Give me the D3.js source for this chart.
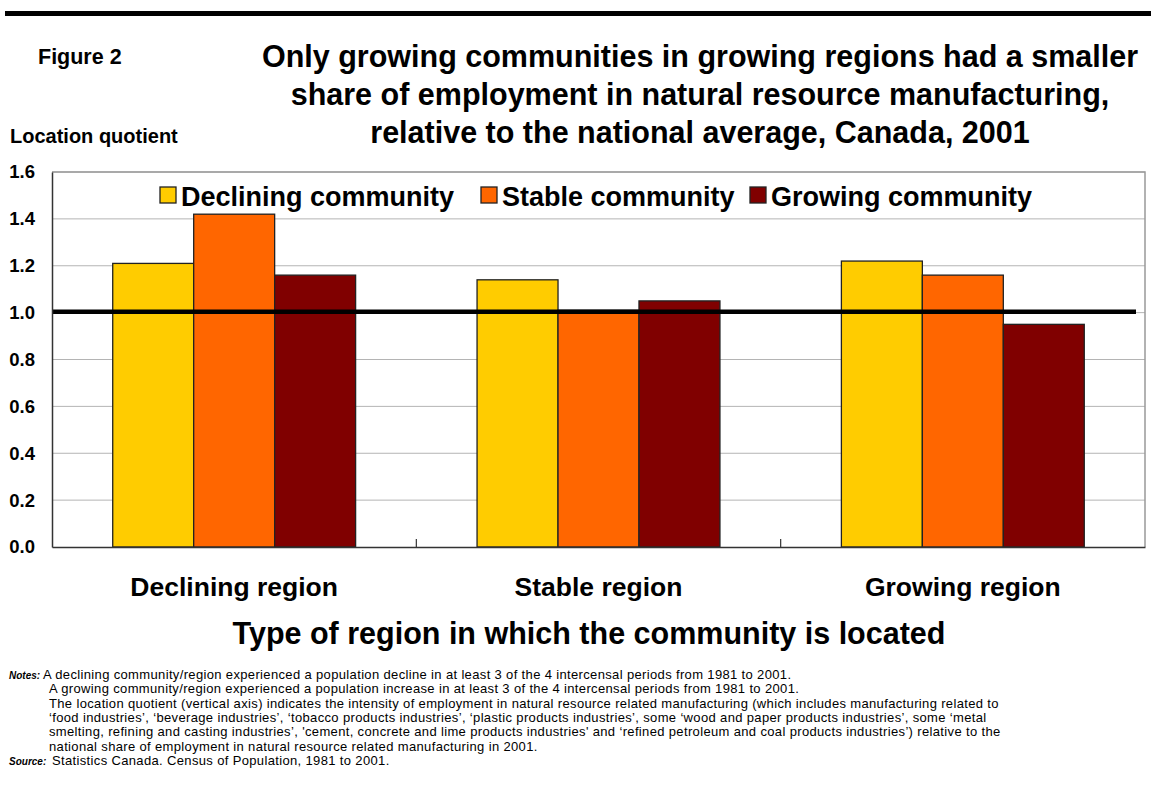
<!DOCTYPE html>
<html>
<head>
<meta charset="utf-8">
<script src="https://cdn.jsdelivr.net/npm/d3@7"></script>
<style>
  body { margin: 0; background: white; }
  svg { font-family: Arial, "Liberation Sans", sans-serif; }
</style>
</head>
<body>
<main></main>
<script>
// values
const regions = ["Declining region", "Stable region", "Growing region"]
const communities = ["Declining community", "Stable community", "Growing community"]
const decliningCommunity = [1.21, 1.14, 1.22]
const stableCommunity = [1.42, 1.01, 1.16]
const growingCommunity = [1.16, 1.05, 0.95]
const yTicks = [0, 0.2, 0.4, 0.6, 0.8, 1.0, 1.2, 1.4, 1.6]
const nationalAverage = 1.0

const colors = ["#ffcc00", "#ff6600", "#800000"]
const seriesValues = [decliningCommunity, stableCommunity, growingCommunity]

const titleLines = [
    "Only growing communities in growing regions had a smaller",
    "share of employment in natural resource manufacturing,",
    "relative to the national average, Canada, 2001"
]
const noteLines = [
    "A declining community/region experienced a population decline in at least 3 of the 4 intercensal periods from 1981 to 2001.",
    "A growing community/region experienced a population increase in at least 3 of the 4 intercensal periods from 1981 to 2001.",
    "The location quotient (vertical axis) indicates the intensity of employment in natural resource related manufacturing (which includes manufacturing related to",
    "\u2018food industries\u2019, \u2018beverage industries\u2019, \u2018tobacco products industries\u2019, \u2018plastic products industries\u2019, some \u2018wood and paper products industries\u2019, some \u2018metal",
    "smelting, refining and casting industries\u2019, 'cement, concrete and lime products industries' and \u2018refined petroleum and coal products industries\u2019) relative to the",
    "national share of employment in natural resource related manufacturing in 2001."
]

const svgWidth = 1151
const svgHeight = 804

const plot = { left: 52, right: 1145, top: 172, bottom: 547 }

let svg = d3.select("main")
    .append("svg")
    .attr("width", svgWidth)
    .attr("height", svgHeight)

//top rule
svg.append("rect")
    .attr("x", 5).attr("y", 11)
    .attr("width", svgWidth - 5).attr("height", 5)
    .attr("fill", "black")

//figure label and title
svg.append("text")
    .attr("x", 38).attr("y", 64)
    .attr("font-size", 21.5).attr("font-weight", "bold")
    .text("Figure 2")

svg.append("g").selectAll("text")
    .data(titleLines)
    .enter()
    .append("text")
    .attr("x", 700)
    .attr("y", (d, i) => 67 + i * 38)
    .attr("text-anchor", "middle")
    .attr("font-size", 30.5)
    .attr("font-weight", "bold")
    .text(d => d)

svg.append("text")
    .attr("x", 10).attr("y", 143)
    .attr("font-size", 20).attr("font-weight", "bold")
    .text("Location quotient")

//scales
let xScale = d3.scaleBand()
    .domain(regions)
    .range([plot.left, plot.right])

let xInner = d3.scaleBand()
    .domain(communities)
    .range([0, xScale.bandwidth()])
    .paddingInner(0)
    .paddingOuter(0.75)

let yScale = d3.scaleLinear()
    .domain([0, 1.6])
    .range([plot.bottom, plot.top])

//gridlines
svg.append("g")
    .selectAll("line")
    .data(yTicks.slice(1))
    .enter()
    .append("line")
    .attr("x1", plot.left).attr("x2", plot.right)
    .attr("y1", d => yScale(d)).attr("y2", d => yScale(d))
    .attr("stroke", "#b4b4b4")
    .attr("stroke-width", 1)

//plot border top/right
svg.append("path")
    .attr("d", `M${plot.left},${plot.top}H${plot.right}V${plot.bottom}`)
    .attr("fill", "none")
    .attr("stroke", "#999")
    .attr("stroke-width", 1.5)

//bars
let groups = svg.append("g")
    .selectAll("g")
    .data(regions)
    .enter()
    .append("g")
    .attr("transform", d => `translate(${xScale(d)},0)`)

groups.selectAll("rect")
    .data((d, i) => communities.map((c, j) => ({ c: c, j: j, v: seriesValues[j][i] })))
    .enter()
    .append("rect")
    .attr("x", d => xInner(d.c))
    .attr("y", d => yScale(d.v))
    .attr("width", xInner.bandwidth())
    .attr("height", d => plot.bottom - yScale(d.v))
    .attr("fill", d => colors[d.j])
    .attr("stroke", "#222")
    .attr("stroke-width", 1.3)

//national average line
svg.append("line")
    .attr("x1", plot.left).attr("x2", plot.right - 9)
    .attr("y1", yScale(nationalAverage) - 1).attr("y2", yScale(nationalAverage) - 1)
    .attr("stroke", "black")
    .attr("stroke-width", 4.5)

//y axis
let leftAxis = d3.axisLeft(yScale)
    .tickValues(yTicks)
    .tickSize(0)
    .tickPadding(17)
    .tickFormat(d3.format(".1f"))

let yAxis = svg.append("g")
    .attr("transform", `translate(${plot.left},0)`)
    .call(leftAxis)

yAxis.select("path")
    .attr("stroke", "#333")
    .attr("stroke-width", 1.5)

yAxis.selectAll("text")
    .attr("font-family", "Arial, 'Liberation Sans', sans-serif")
    .attr("font-size", 18.5)
    .attr("font-weight", "bold")
    .attr("fill", "black")

//x axis
let bottomAxis = d3.axisBottom(xScale)
    .tickSize(0)
    .tickPadding(30)

let xAxis = svg.append("g")
    .attr("transform", `translate(0,${plot.bottom})`)
    .call(bottomAxis)

xAxis.select("path")
    .attr("stroke", "#333")
    .attr("stroke-width", 1.5)

xAxis.selectAll("text")
    .attr("font-family", "Arial, 'Liberation Sans', sans-serif")
    .attr("font-size", 26.5)
    .attr("font-weight", "bold")
    .attr("fill", "black")

//category boundary ticks
svg.append("g")
    .selectAll("line")
    .data(regions.slice(1))
    .enter()
    .append("line")
    .attr("x1", d => xScale(d)).attr("x2", d => xScale(d))
    .attr("y1", plot.bottom).attr("y2", plot.bottom - 8)
    .attr("stroke", "#333")
    .attr("stroke-width", 1.2)

svg.append("text")
    .attr("x", 589).attr("y", 644)
    .attr("text-anchor", "middle")
    .attr("font-size", 30.5).attr("font-weight", "bold")
    .text("Type of region in which the community is located")

//legend
let legendX = [160, 481, 750]

let item = svg.append("g")
    .attr("transform", "translate(0,196)")
    .selectAll("g")
    .data(communities)
    .enter()
    .append("g")
    .attr("transform", (d, i) => `translate(${legendX[i]},0)`)

item.append("rect")
    .attr("x", 0).attr("y", -9)
    .attr("width", 16).attr("height", 16)
    .attr("fill", (d, i) => colors[i])
    .attr("stroke", "#222")
    .attr("stroke-width", 1.3)

item.append("text")
    .attr("x", 21).attr("y", 9.5)
    .attr("font-size", 27).attr("font-weight", "bold")
    .text(d => d)

//notes
let notes = svg.append("g")
    .attr("font-size", 13)
    .attr("letter-spacing", 0.35)

notes.append("text")
    .attr("x", 9).attr("y", 679)
    .attr("font-size", 10)
    .attr("font-weight", "bold").attr("font-style", "italic")
    .attr("letter-spacing", 0)
    .text("Notes:")

notes.selectAll("text.line")
    .data(noteLines)
    .enter()
    .append("text")
    .attr("class", "line")
    .attr("x", (d, i) => i == 0 ? 43 : 49)
    .attr("y", (d, i) => 679 + i * 14.3)
    .text(d => d)

notes.append("text")
    .attr("x", 9).attr("y", 765)
    .attr("font-size", 10)
    .attr("font-weight", "bold").attr("font-style", "italic")
    .attr("letter-spacing", 0)
    .text("Source:")

notes.append("text")
    .attr("x", 52).attr("y", 765)
    .text("Statistics Canada. Census of Population, 1981 to 2001.")
</script>
</body>
</html>
